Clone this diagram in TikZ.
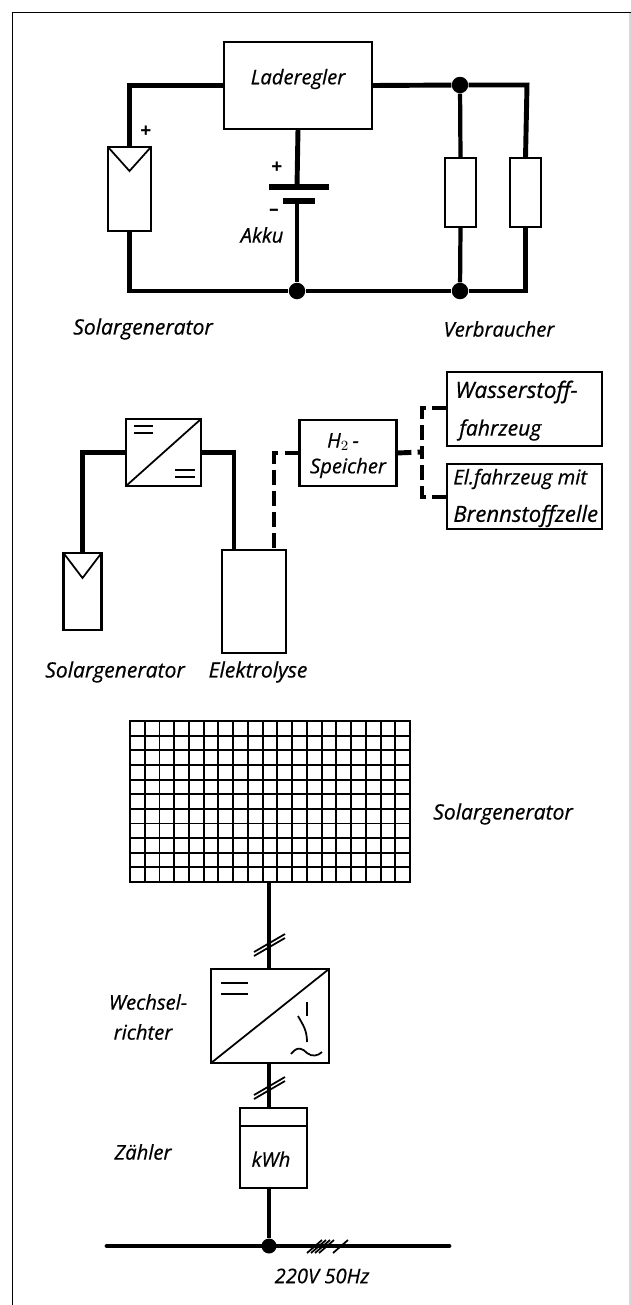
\documentclass[tikz,border=0pt]{standalone}
\usepackage{fontspec}
\setmainfont[ItalicFeatures={FakeBold=0.6}]{Open Sans}
\usetikzlibrary{positioning, calc}
\tikzset{
    box/.style={draw, rectangle, line width=1.2pt, inner sep=0pt, outer sep=0pt, align=center},
    wire/.style={line width=2.8pt, line join=miter},
    thin wire/.style={line width=2.4pt},
    hydrogen/.style={line width=2.8pt, dash pattern=on 8.5pt off 3.5pt},
    dot/.style={circle, fill, inner sep=0pt, minimum size=.33cm},
    slash/.style={line width=1pt},
    symb/.style={line width=1pt},
    lbl/.style={font=\itshape\fontsize{11.5pt}{13pt}\selectfont, inner sep=0pt},
    gen lbl/.style={font=\itshape\fontsize{12pt}{13pt}\selectfont, inner sep=0pt},
    box lbl/.style={font=\itshape\fontsize{#1}{13pt}\selectfont, inner sep=0pt, anchor=west},
    sign/.style={font=\bfseries\fontsize{11pt}{13pt}\selectfont, inner sep=0pt}
}
\begin{document}
\begin{tikzpicture}[x=.02cm,y=-.02cm]
\useasboundingbox (0,0) rectangle (631,1305);
\draw[line width=.8pt] (12.5,1305)--(12.5,12.5)--(631,12.5); %frame
\draw[line width=.6pt, black!15] (630,13)--(630,1305);

% battery system
\node[box, minimum width=2.96cm, minimum height=1.74cm] (lade) at (298,85.5) {};
\node[lbl] (ladelbl) at (298,79) {Laderegler};
\node[box, minimum width=.86cm, minimum height=1.68cm] (solA) at (129.5,189) {};
\draw[symb] (solA.north west)--++(21.5,24)--(solA.north east);
\node[box, minimum width=.62cm, minimum height=1.38cm] (lastA) at (460.5,192.5) {};
\node[box, minimum width=.62cm, minimum height=1.38cm] (lastB) at (525.5,192.5) {};
\node[dot] (topdot) at (460,85) {};
\node[dot] (akkudot) at (297,291) {};
\node[dot] (lastdot) at (460,291) {};
\coordinate (plateA) at (297,187);
\coordinate (plateB) at (297,201);
\coordinate (corner) at (527,85);
\draw[wire] (solA.north) |- (lade.west);
\draw[wire] (solA.south) |- (akkudot);
\draw[wire] (akkudot)--(lastdot);
\draw[wire] (lade.east)--(topdot);
\draw[wire] (topdot)--(corner)--(lastB.north);
\draw[wire] (lastdot)-|(lastB.south);
\draw[thin wire] (topdot)--(lastA.north);
\draw[thin wire] (lastA.south)--(lastdot);
\draw[wire] (lade.south)--(plateA);
\draw[wire] (plateB)--(akkudot);
\draw[line width=3.4pt] ($(plateA)+(-28,0)$)--($(plateA)+(32,0)$);
\draw[line width=3.4pt] ($(plateB)+(-14,0)$)--($(plateB)+(18,0)$);
\node[sign] (plusA) at (146,132) {+};
\node[sign] (plusB) at (277,168) {+};
\node[sign] (minusB) at (274,212) {–};
\node[lbl] (akkulbl) at (262,235) {Akku};
\node[gen lbl] (sollblA) at (143,329) {Solargenerator};
\node[lbl] (verbr) at (499,329) {Verbraucher};

% hydrogen system
\node[box, minimum width=1.5cm, minimum height=1.34cm] (convA) at (163.5,452.5) {};
\draw[symb] (convA.south west)--(convA.north east);
\draw[symb] (134,426)--(153,426);
\draw[symb] (134,433)--(153,433);
\draw[symb] (175,470)--(195,470);
\draw[symb] (175,477)--(195,477);
\node[box, minimum width=.76cm, minimum height=1.54cm] (solB) at (82.5,591.5) {};
\draw[symb] (solB.north west)--++(19,25)--(solB.north east);
\node[box, minimum width=1.28cm, minimum height=2.06cm] (elek) at (254,601.5) {};
\node[box, minimum width=1.94cm, minimum height=1.32cm] (speicher) at (348,453) {};
\node[lbl] (hlbl) at (343,442) {H$_2$\,-};
\node[lbl] (splbl) at (348,468) {Speicher};
\node[box, minimum width=3.1cm, minimum height=1.48cm] (wasser) at (524.5,409) {};
\node[box, minimum width=3.1cm, minimum height=1.3cm] (elfz) at (524.5,496.5) {};
\node[box lbl=12.8pt] (wlblA) at (455,392) {Wasserstoff-};
\node[box lbl=12pt] (wlblB) at (459,430) {fahrzeug};
\node[box lbl=11.5pt] (elblA) at (453,479) {El.fahrzeug mit};
\node[box lbl=12.6pt] (elblB) at (453,516) {Brennstoffzelle};
\coordinate (wasserIn) at (447,408);
\coordinate (elfzIn) at (447,497);
\coordinate (split) at (422,452);
\coordinate (elekOutA) at (234,550);
\coordinate (elekOutB) at (274,550);
\draw[wire] (convA.west) -| (solB.north);
\draw[wire] (convA.east) -| (elekOutA);
\draw[hydrogen] (speicher.west) -| (elekOutB);
\draw[hydrogen] (speicher.east)--(split);
\draw[hydrogen] (wasserIn)-|(split);
\draw[hydrogen] (elfzIn)-|(split);
\node[gen lbl] (sollblB) at (115,672) {Solargenerator};
\node[gen lbl] (eleklbl) at (258,672) {Elektrolyse};

% grid feed
\node[box, minimum width=5.6cm, minimum height=3.22cm] (gen) at (270,801.5) {};
\foreach \i in {1,...,18}
    \draw[line width=1.1pt] (130+\i*14.74,721)--(130+\i*14.74,882);
\foreach \j in {1,...,10}
    \draw[line width=1.1pt] (130,721+\j*14.64)--(410,721+\j*14.64);
\node[gen lbl] (sollblC) at (503,814) {Solargenerator};
\node[box, minimum width=2.36cm, minimum height=1.88cm] (wr) at (270,1016) {};
\draw[symb] (wr.south west)--(wr.north east);
\draw[symb] (221,983)--(248,983);
\draw[symb] (221,994)--(248,994);
\draw[symb] (307,1002)--(307,1016);
\draw[symb] (298,1016) .. controls (303,1025) and (307,1030) .. (307,1042);
\draw[symb] (291,1054) .. controls (298,1045) and (303,1049) .. (307,1053) .. controls (312,1057) and (318,1056) .. (322,1052);
\node[box, minimum width=1.34cm, minimum height=1.6cm] (zaehler) at (273.5,1148) {};
\draw[symb] (zaehler.north west)++(0,18)--++(67,0);
\node[lbl] (kwh) at (271,1159) {kWh};
\node[dot, minimum size=.3cm] (netdot) at (269,1246) {};
\coordinate (netL) at (107,1246);
\coordinate (netR) at (449,1246);
\draw[wire] (gen.south -| netdot)--(wr.north -| netdot);
\draw[wire] (wr.south -| netdot)--(zaehler.north -| netdot);
\draw[wire] (zaehler.south -| netdot)--(netdot);
\draw[wire, line cap=round] (netL)--(netR);
\foreach \ypos in {945,1088}{
    \draw[slash] (254,\ypos+7)--(285,\ypos-11);
    \draw[slash] (254,\ypos+11)--(285,\ypos-7);
}
\foreach \xpos in {307,311,315,319,333}
    \draw[slash] (\xpos,1253)--(\xpos+15,1240);
\node[lbl] (wlbl) at (148,1002) {Wechsel-};
\node[lbl] (rlbl) at (143,1032) {richter};
\node[lbl] (zlbl) at (143,1152) {Zähler};
\node[lbl] (netlbl) at (322,1276) {220V 50Hz};
\end{tikzpicture}
\end{document}
